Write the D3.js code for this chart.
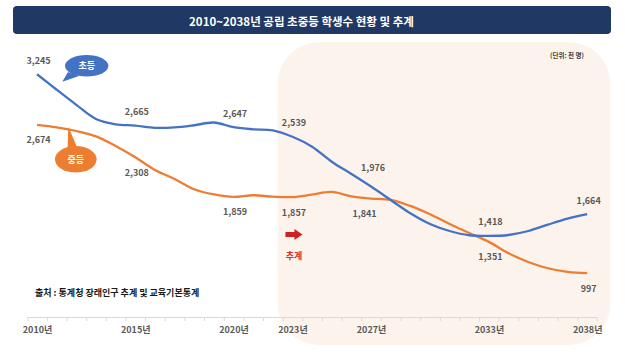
<!DOCTYPE html>
<html><head><meta charset="utf-8">
<script src="https://cdn.jsdelivr.net/npm/d3@7"></script>
<style>
html,body{margin:0;padding:0;background:#fff;}
svg{display:block;font-family:"Noto Sans CJK KR","Noto Sans",sans-serif;}
</style></head>
<body>
<svg id="chart" width="625" height="356"></svg>
<script>
// ---- data ----
const years = d3.range(2010, 2039);
const elementary = [3245,3070,2900,2740,2680,2665,2640,2645,2669,2700,2647,2623,2612,2539,2427,2257,2118,1976,1825,1674,1553,1474,1426,1418,1429,1474,1546,1613,1664];
const middle = [2674,2646,2604,2544,2435,2308,2164,2062,1946,1887,1859,1878,1862,1857,1885,1915,1866,1841,1825,1757,1663,1553,1452,1351,1222,1124,1053,1011,997];
const tickYears = [2010, 2015, 2020, 2023, 2027, 2033, 2038];
const labelYears = [2010, 2015, 2020, 2023, 2027, 2033, 2038];
const seriesNames = ["초등", "중등"];
const titleText = "2010~2038년 공립 초중등 학생수 현황 및 추계";
const unitText = "(단위: 천 명)";
const sourceText = "출처 : 통계청 장래인구 추계 및 교육기본통계";
const forecastText = "추계";

// ---- drawing ----
const svg = d3.select("#chart");
const blue = "#4472C4", orange = "#ED7D31", labelColor = "#595959";

const x = d3.scalePoint().domain(years).range([27.2, 597]).padding(0.5);
const y = d3.scaleLinear().domain([500, 3500]).range([317.2, 51.7]);

// forecast shading
svg.append("rect").attr("x", 277.5).attr("y", 42).attr("width", 333).attr("height", 303)
  .attr("rx", 42).attr("ry", 42).attr("fill", "#FDF3ED");

// title bar
svg.append("rect").attr("x", 13).attr("y", 6).attr("width", 598).attr("height", 28)
  .attr("rx", 4).attr("fill", "#1F3864");
svg.append("text").attr("x", 301.5).attr("y", 20.5).attr("text-anchor", "middle")
  .attr("dominant-baseline", "central").attr("fill", "#fff")
  .attr("font-size", 11.5).attr("font-weight", 700).text(titleText);

// unit
svg.append("text").attr("x", 567).attr("y", 55).attr("text-anchor", "middle")
  .attr("dominant-baseline", "central").attr("fill", "#404040")
  .attr("font-size", 6.5).attr("font-weight", 700).text(unitText);

// x axis
const xAxis = d3.axisBottom(x).tickValues(years).tickSize(4).tickFormat(d => tickYears.includes(d) ? d + "년" : "");
const gx = svg.append("g").attr("transform", "translate(0,317)").call(xAxis);
gx.select(".domain").attr("stroke", "#D9D9D9");
const step = x.step();
gx.selectAll(".tick line").attr("stroke", "#D9D9D9").attr("transform", `translate(${-step/2},0)`);
gx.append("line").attr("x1", 597).attr("x2", 597).attr("y1", 0).attr("y2", 4).attr("stroke", "#D9D9D9");
gx.select(".domain").attr("d", "M27.2,0.5H597");
gx.selectAll(".tick text").attr("fill", labelColor).attr("font-size", 9).attr("font-weight", 700)
  .attr("dy", "0.95em").attr("font-family", "'Noto Sans CJK KR',sans-serif");

// lines
const line = d3.line().x((d, i) => x(years[i])).y(d => y(d)).curve(d3.curveCatmullRom.alpha(0.5));
svg.append("path").datum(middle).attr("d", line).attr("fill", "none").attr("stroke", orange).attr("stroke-width", 2.3);
svg.append("path").datum(elementary).attr("d", line).attr("fill", "none").attr("stroke", blue).attr("stroke-width", 2.3);

// data labels
const dxOver = {"m2027": -8, "e2027": 0.5};
const dyOver = {"e2027": -19};
function addLabels(arr, key, dyDefault) {
  labelYears.forEach(yr => {
    const i = years.indexOf(yr);
    const k = key + yr;
    svg.append("text")
      .attr("x", x(yr) + 1.5 + (dxOver[k] || 0))
      .attr("y", y(arr[i]) + (dyOver[k] !== undefined ? dyOver[k] : dyDefault))
      .attr("text-anchor", "middle").attr("dominant-baseline", "central")
      .attr("fill", labelColor).attr("font-size", 9).attr("font-weight", 700)
      .text(d3.format(",")(arr[i]));
  });
}
addLabels(elementary, "e", -14);
addLabels(middle, "m", 15);

// callouts
function callout(cx, cy, rx, ry, tail, color, text) {
  const g = svg.append("g");
  g.append("path").attr("d", `M${tail[0][0]},${tail[0][1]}L${tail[1][0]},${tail[1][1]}L${tail[2][0]},${tail[2][1]}Z`).attr("fill", color);
  g.append("ellipse").attr("cx", cx).attr("cy", cy).attr("rx", rx).attr("ry", ry).attr("fill", color);
  g.append("text").attr("x", cx).attr("y", cy).attr("text-anchor", "middle").attr("dominant-baseline", "central")
    .attr("fill", "#fff").attr("font-size", 9).attr("font-weight", 700).text(text);
}
callout(86.7, 65.8, 21.7, 10.8, [[68, 72], [62.3, 81.7], [79, 76]], blue, seriesNames[0]);
callout(75.8, 159.3, 20.8, 13.3, [[67.5, 150], [68.3, 126.7], [77, 147]], orange, seriesNames[1]);

// forecast arrow
const ax = x(2023);
svg.append("path").attr("d", `M${ax-7},232 H${ax+2} V229 L${ax+10},234.5 L${ax+2},240 V237 H${ax-7} Z`).attr("fill", "#D0211C");
svg.append("text").attr("x", ax + 1.5).attr("y", 255).attr("text-anchor", "middle").attr("dominant-baseline", "central")
  .attr("fill", "#D9302A").attr("font-size", 9).attr("font-weight", 700).text(forecastText);

// source
svg.append("text").attr("x", 35).attr("y", 292.5).attr("dominant-baseline", "central")
  .attr("fill", "#1a1a1a").attr("font-size", 9).attr("font-weight", 700).text(sourceText);
</script>
</body></html>
